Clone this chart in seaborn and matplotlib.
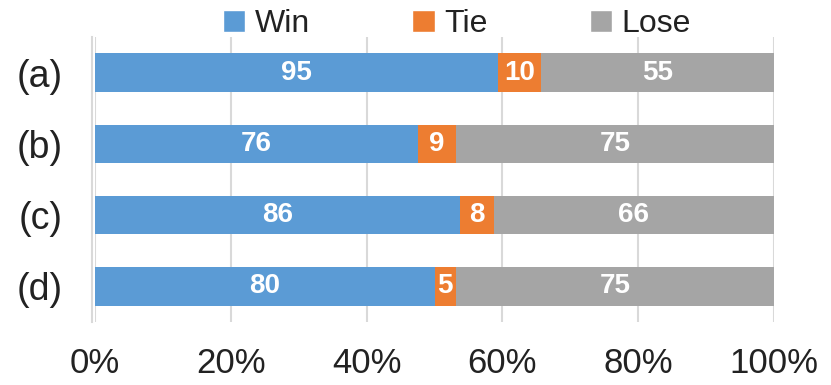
import numpy as np
import pandas as pd
import seaborn as sns
import matplotlib.pyplot as plt
from matplotlib.patches import Patch
from matplotlib.ticker import PercentFormatter

categories = ['(a)', '(b)', '(c)', '(d)']
win = [95, 76, 86, 80]
tie = [10, 9, 8, 5]
lose = [55, 75, 66, 75]
series = ['Win', 'Tie', 'Lose']
colors = ['#5B9BD5', '#ED7D31', '#A5A5A5']

sns.set_style('white')
plt.rcParams['font.family'] = ['Liberation Sans', 'DejaVu Sans']

df = pd.DataFrame({'cat': categories, 'Win': win, 'Tie': tie, 'Lose': lose})
total = df[series].sum(axis=1)
df['win_pct'] = df['Win'] / total * 100
df['tie_pct'] = df['Tie'] / total * 100
df['lose_pct'] = df['Lose'] / total * 100
df['c1'] = df['win_pct']
df['c2'] = df['win_pct'] + df['tie_pct']
df['c3'] = df['c2'] + df['lose_pct']

fig = plt.figure(figsize=(8.31, 3.85), dpi=100)
ax = fig.add_axes([95 / 831, 1 - 322 / 385, 679 / 831, 285 / 385])

# stacked bars: draw cumulative widths back to front
for col, c in zip(['c3', 'c2', 'c1'], colors[::-1]):
    sns.barplot(data=df, x=col, y='cat', color=c, orient='h', width=0.54,
                saturation=1, ax=ax, linewidth=0, zorder=3)

# value labels
for i, row in df.iterrows():
    starts = [0, row['c1'], row['c2']]
    widths = [row['win_pct'], row['tie_pct'], row['lose_pct']]
    vals = [row['Win'], row['Tie'], row['Lose']]
    for s, w, v in zip(starts, widths, vals):
        ax.text(s + w / 2, i, str(v), ha='center', va='center', color='white',
                fontsize=20, fontweight='bold', zorder=5)

ax.set_xlim(0, 100)
ax.set_ylim(3.5, -0.5)
ax.xaxis.set_major_formatter(PercentFormatter(decimals=0))
ax.set_xticks([0, 20, 40, 60, 80, 100])
ax.set_xlabel('')
ax.set_ylabel('')
ax.grid(axis='x', color='#D9D9D9', linewidth=1.5, zorder=0)
ax.set_axisbelow(True)
for s in ['top', 'right', 'bottom']:
    ax.spines[s].set_visible(False)
ax.spines['left'].set_color('#D9D9D9')
ax.spines['left'].set_linewidth(1.5)
ax.spines['left'].set_position(('outward', 2))

ax.set_yticks([0, 1, 2, 3])
ax.set_yticklabels(categories)
ax.set_yticks([-0.5, 0.5, 1.5, 2.5, 3.5], minor=True)
ax.tick_params(axis='y', which='major', length=0, pad=21, labelsize=27, labelcolor='#222222')
ax.tick_params(axis='y', which='minor', length=8, width=1.5, color='#D9D9D9', direction='out')
ax.tick_params(axis='x', length=0, pad=18, labelsize=25, labelcolor='#222222')

handles = [Patch(facecolor=c, label=s) for s, c in zip(series, colors)]
fig.legend(handles=handles, loc='center', bbox_to_anchor=(0.55, 1 - 24 / 385), ncol=3,
           frameon=False, fontsize=23, handlelength=0.7, handleheight=0.7,
           handletextpad=0.3, columnspacing=3.2, labelcolor='#222222')

fig.savefig('out.png', dpi=100)
